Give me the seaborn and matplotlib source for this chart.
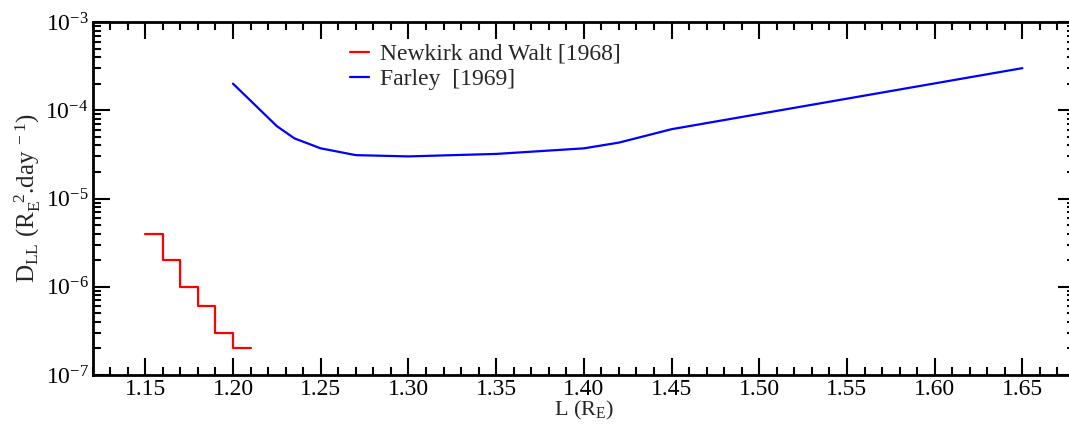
import numpy as np
import pandas as pd
import matplotlib
matplotlib.use('Agg')
import matplotlib.pyplot as plt
import matplotlib.ticker as mticker
import seaborn as sns

# Radial diffusion coefficient vs L shell

# Newkirk and Walt [1968] (step curve)
nw_L = [1.15, 1.16, 1.17, 1.18, 1.19, 1.20, 1.21]
nw_dll = [4e-6, 2e-6, 1e-6, 6e-7, 3e-7, 2e-7, 2e-7]

# Farley [1969]
farley_L = [1.20, 1.225, 1.235, 1.25, 1.27, 1.30, 1.35, 1.40, 1.42, 1.45, 1.65]
farley_dll = [2.0e-4, 6.6e-5, 4.8e-5, 3.7e-5, 3.1e-5, 3.0e-5, 3.2e-5, 3.7e-5, 4.3e-5, 6.1e-5, 3.0e-4]

x_ticks = [1.15, 1.20, 1.25, 1.30, 1.35, 1.40, 1.45, 1.50, 1.55, 1.60, 1.65]

sns.set_theme(style="ticks")
plt.rcParams['font.family'] = ['Liberation Serif', 'DejaVu Serif']
plt.rcParams['mathtext.fontset'] = 'custom'
plt.rcParams['mathtext.rm'] = 'Liberation Serif'
plt.rcParams['mathtext.it'] = 'Liberation Serif:italic'
plt.rcParams['axes.unicode_minus'] = False

fig = plt.figure(figsize=(10.69, 4.25), dpi=100)
ax = fig.add_axes([92.7 / 1069, 1 - 375.0 / 425, (1075 - 92.7) / 1069, (375.0 - 22.0) / 425])

nw = pd.DataFrame({'L': nw_L, 'D': nw_dll})
fa = pd.DataFrame({'L': farley_L, 'D': farley_dll})

sns.lineplot(data=nw, x='L', y='D', ax=ax, color='red', lw=1.6,
             drawstyle='steps-post', label='Newkirk and Walt [1968]')
sns.lineplot(data=fa, x='L', y='D', ax=ax, color='blue', lw=1.6,
             label='Farley  [1969]')

ax.set_yscale('log')
ax.set_xlim(1.12, 1.68)
ax.set_ylim(1e-7, 1e-3)
ax.set_xticks(x_ticks)
ax.set_xticklabels([f'{v:.2f}' for v in x_ticks])
ax.xaxis.set_minor_locator(mticker.MultipleLocator(0.01))
ax.yaxis.set_major_locator(mticker.LogLocator(base=10, numticks=10))
ax.yaxis.set_minor_locator(mticker.LogLocator(base=10, subs=np.arange(2, 10), numticks=10))
ax.yaxis.set_minor_formatter(mticker.NullFormatter())

ax.tick_params(which='both', direction='in', top=True, right=True,
               labelsize=17, colors='black', width=1.5)
ax.tick_params(which='major', length=12, pad=3)
ax.tick_params(which='minor', length=6)
for s in ax.spines.values():
    s.set_linewidth(2)
    s.set_color('black')

ax.set_xlabel(r'L (R$_\mathrm{E}$)', fontsize=16, labelpad=-1)
ax.set_ylabel(r'D$_\mathrm{LL}$ (R$_\mathrm{E}^{\ \ 2}$.day$^{\ -1}$)', fontsize=18, labelpad=2)

leg = ax.legend(loc='upper left', bbox_to_anchor=(0.24, 1.0), frameon=False,
                fontsize=17, handlelength=0.8, handletextpad=0.5, labelspacing=0.15)

fig.savefig('out.png', dpi=100)
